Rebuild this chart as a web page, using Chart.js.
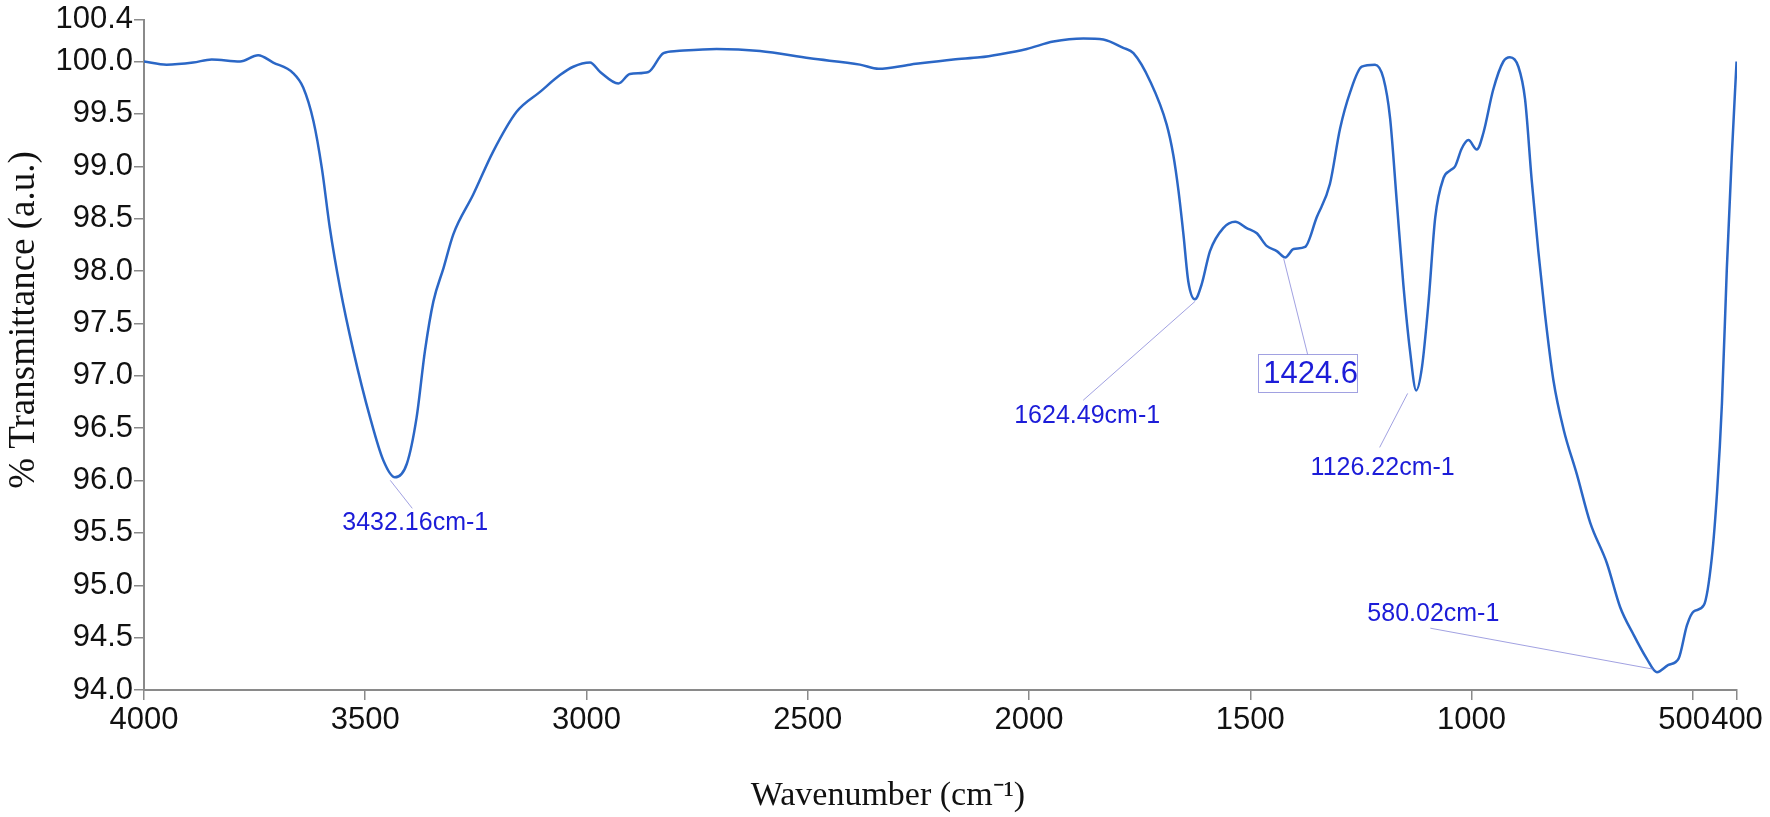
<!DOCTYPE html>
<html>
<head>
<meta charset="utf-8">
<title>FTIR</title>
<script src="https://cdn.jsdelivr.net/npm/chart.js@4.4.1/dist/chart.umd.min.js"></script>
<style>
  html, body { margin: 0; padding: 0; background: #fff; }
  #wrap { position: relative; width: 1770px; height: 817px; }
</style>
</head>
<body>
<div id="wrap"><canvas id="ftir"></canvas></div>
<script>
// FTIR 투과 스펙트럼 (4000 -> 400 cm-1)

var WAVENUMBER = [
  4000, 3949, 3889, 3847, 3783, 3742, 3708, 3663, 3640, 3617, 3598, 3580, 3557, 3527,
  3489, 3459, 3433, 3406, 3384, 3365, 3346, 3323, 3301, 3256, 3211, 3158, 3105, 3060,
  3030, 2992, 2969, 2928, 2902, 2860, 2826, 2796, 2706, 2608, 2495, 2382, 2340, 2269,
  2171, 2111, 2065, 2005, 1945, 1877, 1832, 1787, 1764, 1726, 1689, 1674, 1662, 1651,
  1640, 1625, 1610, 1591, 1561, 1534, 1508, 1485, 1463, 1440, 1421, 1402, 1376, 1350,
  1320, 1297, 1274, 1248, 1218, 1199, 1184, 1169, 1154, 1139, 1125, 1112, 1097, 1082,
  1063, 1048, 1037, 1022, 1007, 988, 973, 951, 928, 913, 894, 879, 864, 849, 834, 815,
  792, 762, 732, 694, 664, 634, 604, 581, 555, 532, 513, 498, 475, 457, 445, 434, 423,
  412, 401
];

var TRANSMITTANCE = [
  100.00, 99.97, 99.99, 100.02, 100.00, 100.06, 99.99, 99.89, 99.75, 99.43, 98.98, 98.41, 97.84, 97.24,
  96.60, 96.19, 96.03, 96.16, 96.60, 97.24, 97.71, 98.03, 98.35, 98.73, 99.14, 99.52, 99.71, 99.87,
  99.95, 99.99, 99.90, 99.79, 99.88, 99.90, 100.08, 100.10, 100.12, 100.10, 100.03, 99.97, 99.93, 99.97,
  100.02, 100.04, 100.07, 100.12, 100.19, 100.22, 100.21, 100.13, 100.08, 99.81, 99.40, 99.11, 98.76, 98.35,
  97.90, 97.73, 97.87, 98.19, 98.41, 98.47, 98.41, 98.36, 98.24, 98.19, 98.13, 98.21, 98.23, 98.51,
  98.83, 99.36, 99.71, 99.95, 99.97, 99.84, 99.46, 98.67, 97.87, 97.24, 96.86, 97.08, 97.71, 98.51,
  98.89, 98.96, 99.00, 99.17, 99.25, 99.16, 99.32, 99.73, 100.00, 100.04, 99.95, 99.64, 98.87, 98.19, 97.59, 96.96,
  96.49, 96.06, 95.60, 95.21, 94.79, 94.53, 94.30, 94.17, 94.24, 94.30, 94.62, 94.75, 94.81, 95.26, 95.89, 96.74, 98.02,
  99.08, 100.00
];

var X_TICKS = [4000, 3500, 3000, 2500, 2000, 1500, 1000, 500, 400];
var Y_TICKS = [94.0, 94.5, 95.0, 95.5, 96.0, 96.5, 97.0, 97.5, 98.0, 98.5, 99.0, 99.5, 100.0, 100.4];

// 피크 표시
var PEAK_TEXT = ['3432.16cm-1', '1624.49cm-1', '1424.6', '1126.22cm-1', '580.02cm-1'];
var PEAK_X = [3432.16, 1624.49, 1424.6, 1126.22, 580.02];
var PEAK_Y = [96.03, 97.73, 98.13, 96.86, 94.17];

var X_TITLE = 'Wavenumber (cm\u207B\u00B9)';
var Y_TITLE = '% Transmittance (a.u.)';

// 라벨 배치 (피크점 기준 픽셀 오프셋)
var PEAK_LAYOUT = [
  { l0: [-5, 3],  l1: [17, 31],    t: [20, 46],    box: false },
  { l0: [0, 2],   l1: [-112, 101], t: [-108, 117], box: false },
  { l0: [0, 1],   l1: [24, 97],    t: [24, 116],   box: true },
  { l0: [-8, 3],  l1: [-36, 57],   t: [-33, 78],   box: false },
  { l0: [-4, -3], l1: [-227, -44], t: [-224, -58], box: false }
];

var LINE_COLOR = '#2b67c6';
var AXIS_COLOR = '#8a8a8a';
var PEAK_COLOR = '#1c1cd8';
var LEADER_COLOR = 'rgba(130,130,215,0.75)';
var SANS = '"Liberation Sans", Arial, sans-serif';
var SERIF = '"Liberation Serif", "Times New Roman", serif';

var peakPlugin = {
  id: 'peakLabels',
  afterDatasetsDraw: function (chart) {
    var ctx = chart.ctx;
    var xs = chart.scales.x, ys = chart.scales.y;
    ctx.save();
    PEAK_TEXT.forEach(function (txt, i) {
      var px = xs.getPixelForValue(PEAK_X[i]);
      var py = ys.getPixelForValue(PEAK_Y[i]);
      var lay = PEAK_LAYOUT[i];
      ctx.strokeStyle = LEADER_COLOR;
      ctx.lineWidth = 1;
      ctx.beginPath();
      ctx.moveTo(px + lay.l0[0], py + lay.l0[1]);
      ctx.lineTo(px + lay.l1[0], py + lay.l1[1]);
      ctx.stroke();

      var tx = px + lay.t[0], ty = py + lay.t[1];
      ctx.fillStyle = PEAK_COLOR;
      ctx.textAlign = 'center';
      ctx.textBaseline = 'middle';
      if (lay.box) {
        ctx.font = '31px ' + SANS;
        ctx.strokeStyle = LEADER_COLOR;
        ctx.strokeRect(Math.round(tx - 49.5) + 0.5, Math.round(ty - 19) + 0.5, 99, 38);
        ctx.fillText(txt, tx + 3, ty + 1);
      } else {
        ctx.font = '25px ' + SANS;
        ctx.fillText(txt, tx, ty);
      }
    });
    ctx.restore();
  }
};

var titlePlugin = {
  id: 'axisTitles',
  afterDraw: function (chart) {
    var ctx = chart.ctx;
    ctx.save();
    ctx.fillStyle = '#111';
    ctx.textAlign = 'center';
    ctx.textBaseline = 'alphabetic';
    ctx.font = '34px ' + SERIF;
    ctx.fillText(X_TITLE, 888, 805);
    ctx.translate(34, 320);
    ctx.rotate(-Math.PI / 2);
    ctx.font = '37px ' + SERIF;
    ctx.fillText(Y_TITLE, 0, 0);
    ctx.restore();
  }
};

var points = WAVENUMBER.map(function (w, i) { return { x: w, y: TRANSMITTANCE[i] }; });

new Chart(document.getElementById('ftir'), {
  type: 'line',
  data: {
    datasets: [{
      data: points,
      borderColor: LINE_COLOR,
      borderWidth: 2.5,
      pointRadius: 0,
      cubicInterpolationMode: 'monotone',
      fill: false
    }]
  },
  options: {
    animation: false,
    responsive: true,
    maintainAspectRatio: false,
    layout: { padding: { top: 18, right: 33, left: 0, bottom: 0 } },
    scales: {
      x: {
        type: 'linear',
        reverse: true,
        min: 400,
        max: 4000,
        afterBuildTicks: function (scale) {
          scale.ticks = X_TICKS.map(function (v) { return { value: v }; });
        },
        afterFit: function (scale) { scale.height = 127; },
        ticks: {
          autoSkip: false,
          maxRotation: 0,
          padding: 2,
          color: '#111',
          font: { family: SANS, size: 31 },
          // 500과 400 라벨이 붙어 있어서 500을 약간 왼쪽으로
          callback: function (v) { return v === 500 ? '500\u2007' : String(v); }
        },
        grid: { display: true, drawOnChartArea: false, drawTicks: true, tickLength: 10, color: AXIS_COLOR, lineWidth: 1.5 },
        border: { display: true, color: AXIS_COLOR, width: 2 }
      },
      y: {
        type: 'linear',
        min: 94,
        max: 100.4,
        afterBuildTicks: function (scale) {
          scale.ticks = Y_TICKS.map(function (v) { return { value: v }; });
        },
        afterFit: function (scale) { scale.width = 144; },
        ticks: {
          padding: 1,
          color: '#111',
          font: { family: SANS, size: 31 },
          callback: function (v) { return Number(v).toFixed(1); }
        },
        grid: { display: true, drawOnChartArea: false, drawTicks: true, tickLength: 10, color: AXIS_COLOR, lineWidth: 1.5 },
        border: { display: true, color: AXIS_COLOR, width: 2 }
      }
    },
    plugins: {
      legend: { display: false },
      tooltip: { enabled: false }
    }
  },
  plugins: [peakPlugin, titlePlugin]
});
</script>
</body>
</html>
